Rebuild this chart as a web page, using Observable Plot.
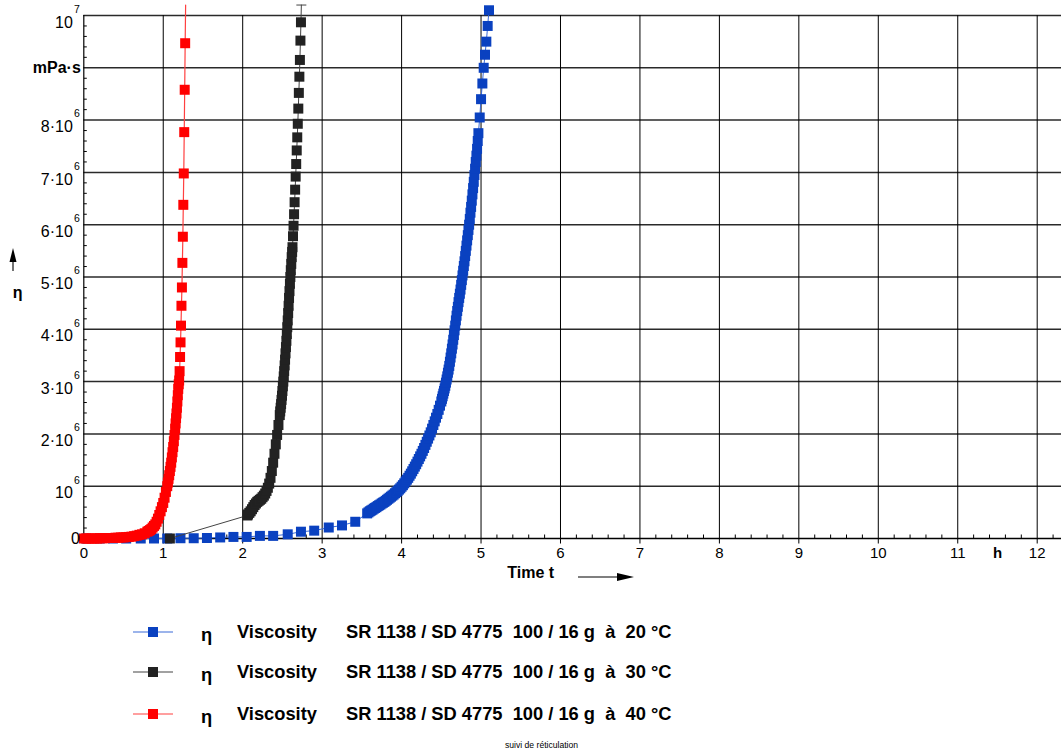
<!DOCTYPE html>
<html>
<head>
<meta charset="utf-8">
<script src="https://cdn.jsdelivr.net/npm/d3@7"></script>
<script src="https://cdn.jsdelivr.net/npm/@observablehq/plot@0.6"></script>
<style>
html, body { margin: 0; padding: 0; background: #fff; overflow: hidden; }
#wrap { position: relative; width: 1061px; height: 751px; font-family: "Liberation Sans", Arial, sans-serif; color: #000; }
#chart { position: absolute; left: 0; top: 0; }
.lg { position: absolute; font-weight: bold; font-size: 18.3px; line-height: 20px; white-space: pre; }
.mk { position: absolute; }
#foot { position: absolute; font-size: 8.6px; line-height: 10px; white-space: pre; }
</style>
</head>
<body>
<div id="wrap"><div id="chart"></div></div>
<script>
// ---------- DATA (time in minutes, viscosity in 10^6 mPa·s) ----------
// 20 °C series (blue): sparse part then dense part
const blueSparseMin = [2, 12, 22, 32, 43, 53, 63, 73, 83, 93, 103, 113, 123, 133, 143, 154, 164, 174, 185, 195, 205];
const blueSparseEta = [0, 0, 0, 0, 0, 0, 0, 0.005, 0.005, 0.01, 0.02, 0.03, 0.03, 0.05, 0.05, 0.08, 0.13, 0.15, 0.21, 0.25, 0.32];
const blueDenseMin = [
  214, 215, 216, 217, 218, 219, 220, 221, 222, 223, 224, 225, 226, 227, 228, 229, 230, 231, 232, 233,
  234, 235, 236, 237, 238, 239, 240, 241, 242, 243, 244, 245, 246, 247, 248, 249, 250, 251, 252, 253,
  254, 255, 256, 257, 258, 259, 260, 261, 262, 263, 264, 265, 266, 267, 268, 269, 270,
  270.5, 271, 271.5, 272, 272.5, 273, 273.5, 274, 274.5, 275, 275.5, 276, 276.5, 277, 277.5, 278,
  278.5, 279, 279.5, 280, 280.5, 281, 281.5, 282, 282.5, 283, 283.5, 284, 284.5, 285, 285.5, 286,
  286.5, 287, 287.5, 288, 288.5, 289, 289.5, 290, 290.5, 291, 291.5, 292, 292.5, 293, 293.5, 294,
  294.5, 295, 295.5, 296, 296.5, 297, 297.5, 298,
  299, 300, 301, 302, 303, 304, 305, 306
];
const blueDenseEta = [
  0.48, 0.50, 0.52, 0.535, 0.55, 0.57, 0.585, 0.60, 0.62, 0.635, 0.65, 0.67, 0.685, 0.70, 0.72, 0.74, 0.76, 0.78, 0.80, 0.82,
  0.84, 0.865, 0.885, 0.91, 0.935, 0.96, 0.99, 1.02, 1.055, 1.09, 1.125, 1.16, 1.20, 1.24, 1.285, 1.33, 1.375, 1.42, 1.47, 1.52,
  1.57, 1.62, 1.675, 1.73, 1.79, 1.85, 1.91, 1.97, 2.03, 2.10, 2.17, 2.24, 2.31, 2.38, 2.46, 2.54, 2.62,
  2.67, 2.72, 2.77, 2.82, 2.87, 2.92, 2.98, 3.04, 3.10, 3.17, 3.23, 3.30, 3.38, 3.46, 3.54, 3.63,
  3.71, 3.80, 3.89, 3.98, 4.07, 4.17, 4.26, 4.35, 4.43, 4.52, 4.60, 4.68, 4.76, 4.85, 4.94, 5.03,
  5.12, 5.21, 5.30, 5.40, 5.50, 5.60, 5.70, 5.80, 5.90, 6.00, 6.11, 6.23, 6.34, 6.46, 6.58, 6.70,
  6.82, 6.95, 7.07, 7.20, 7.32, 7.45, 7.60, 7.75,
  8.05, 8.40, 8.70, 9.00, 9.25, 9.50, 9.80, 10.1
];

// 30 °C series (black)
const blackMin = [
  65, 123.5, 124, 125, 126, 127, 128, 129, 130, 131, 132, 133, 134, 135, 136, 137, 138, 139, 140, 141, 142, 143, 144, 145, 146, 147,
  148, 148.33, 148.67, 149, 149.33, 149.67, 150, 150.33, 150.67, 151, 151.33, 151.67, 152, 152.33, 152.67,
  153, 153.33, 153.67, 154, 154.33, 154.67, 155, 155.33, 155.67, 156, 156.33, 156.67, 157, 157.33,
  157.6, 158, 158.4, 158.8, 159.2, 159.6, 160, 160.4, 160.8, 161.2, 161.6, 162, 162.4, 162.8, 163.2, 163.6, 164
];
const blackEta = [
  0, 0.44, 0.46, 0.49, 0.52, 0.56, 0.60, 0.64, 0.67, 0.70, 0.72, 0.74, 0.76, 0.79, 0.82, 0.86, 0.91, 0.97, 1.05, 1.16, 1.29, 1.45, 1.62, 1.80, 1.98, 2.17,
  2.36, 2.43, 2.50, 2.57, 2.65, 2.73, 2.82, 2.91, 3.00, 3.10, 3.20, 3.31, 3.42, 3.54, 3.66,
  3.78, 3.91, 4.04, 4.17, 4.31, 4.45, 4.60, 4.73, 4.87, 5.00, 5.13, 5.25, 5.38, 5.48,
  5.57, 5.78, 5.98, 6.20, 6.43, 6.67, 6.92, 7.16, 7.42, 7.67, 7.93, 8.22, 8.52, 8.83, 9.15, 9.52, 9.87
];
const blackTopMin = [164.3];   // line leaves the chart (capped)
const blackTopEta = [10.2];

// 40 °C series (red)
const redMin = [
  0, 2, 4, 6, 8, 10, 12, 14, 16, 18, 20, 22, 24, 26, 28, 30, 32, 34, 36, 38, 40, 42, 44, 46, 48,
  49, 50, 51, 52, 53, 54, 55, 56, 57, 58, 59, 60, 61, 62, 63,
  63.5, 64, 64.5, 65, 65.5, 66, 66.5, 67, 67.5, 68, 68.5, 69,
  69.33, 69.67, 70, 70.33, 70.67, 71, 71.33, 71.67,
  72, 72.35, 72.7, 73.05, 73.4, 73.75, 74.1, 74.45, 74.8, 75.15, 75.5, 75.85, 76.2, 76.55
];
const redEta = [
  0, 0, 0, 0, 0, 0, 0.005, 0.005, 0.005, 0.01, 0.01, 0.01, 0.015, 0.015, 0.02, 0.02, 0.025, 0.03, 0.035, 0.045, 0.055, 0.07, 0.08, 0.10, 0.13,
  0.145, 0.16, 0.18, 0.21, 0.24, 0.27, 0.32, 0.38, 0.45, 0.52, 0.6, 0.68, 0.78, 0.89, 1.0,
  1.07, 1.14, 1.21, 1.29, 1.37, 1.45, 1.55, 1.65, 1.75, 1.86, 1.98, 2.10,
  2.2, 2.3, 2.39, 2.5, 2.62, 2.74, 2.86, 2.95,
  3.02, 3.20, 3.47, 3.75, 4.07, 4.45, 4.80, 5.27, 5.77, 6.38, 6.98, 7.77, 8.58, 9.47
];
const redTopMin = [76.9];      // line leaves the chart
const redTopEta = [10.2];

// Axis ticks and labels
const xTicks = [0, 1, 2, 3, 4, 5, 6, 7, 8, 9, 10, 11, 12];
const xTickLabels = ["0", "1", "2", "3", "4", "5", "6", "7", "8", "9", "10", "11", "12"];
const xUnit = [{t: 11.5, label: "h"}];
const yTicks = [0, 1, 2, 3, 4, 5, 6, 7, 8, 9, 10];              // ×10^6
const yTickBase = ["0", "10", "2·10", "3·10", "4·10", "5·10", "6·10", "7·10", "8·10", "mPa·s", "10"];
const yTickExp  = ["", "6", "6", "6", "6", "6", "6", "6", "6", "", "7"];

// Legend
const seriesNames = ["20 °C", "30 °C", "40 °C"];
const seriesColors = ["#0a41c0", "#222222", "#ff0000"];
const seriesLineColors = ["#3a6ad8", "#444444", "#ff4040"];
const legendSymbol = "η";
const legendWord = "Viscosity";
const legendProduct = "SR 1138 / SD 4775  100 / 16 g  à  ";
const footerText = "suivi de réticulation";

// ---------- BUILD ----------
const toRows = (mins, etas) => mins.map((m, i) => ({t: m / 60, eta: etas[i] * 1e6}));
const blue = toRows(blueSparseMin.concat(blueDenseMin), blueSparseEta.concat(blueDenseEta));
const black = toRows(blackMin, blackEta);
const red = toRows(redMin, redEta);
const blackLine = black.concat(toRows(blackTopMin, blackTopEta));
const redLine = red.concat(toRows(redTopMin, redTopEta));
const blackTop = toRows(blackTopMin, blackTopEta);

const xMinor = d3.range(0, 62).filter(i => i % 5 !== 0).map(i => i / 5);
const yMinor = d3.range(0, 50).filter(i => i % 5 !== 0).map(i => i * 0.2e6);

const tickUp = {draw(ctx) { ctx.moveTo(0, 0); ctx.lineTo(0, -4); }};
const tickDown = {draw(ctx) { ctx.moveTo(0, 0); ctx.lineTo(0, 5); }};
const tickRight = {draw(ctx) { ctx.moveTo(0, 0); ctx.lineTo(3, 0); }};
const capSym = {draw(ctx) { ctx.moveTo(-5, 0); ctx.lineTo(5, 0); }};

const yLabels = yTicks.map((v, i) => ({v: v * 1e6, base: yTickBase[i], exp: yTickExp[i]}));
const yExpLabels = yLabels.filter(d => d.exp !== "");
const yZero = yLabels.filter(d => d.base === "0");
const yUnit = yLabels.filter(d => d.base === "mPa·s");

const SQ = 5.64; // square symbol radius => 10px side

const plot = Plot.plot({
  width: 1061,
  height: 600,
  marginLeft: 83.3,
  marginRight: 0,
  marginTop: 15,
  marginBottom: 62,
  x: {domain: [0, 12.306], axis: null},
  y: {domain: [0, 1e7], axis: null},
  style: {fontFamily: "'Liberation Sans', Arial, sans-serif", fontSize: "15px", background: "white", color: "#000"},
  marks: [
    Plot.ruleY(yTicks.slice(1).map(v => v * 1e6), {stroke: "#2a2a2a", strokeWidth: 1.5}),
    Plot.ruleX(xTicks.slice(1), {stroke: "#000", strokeWidth: 1}),
    Plot.ruleX([0], {stroke: "#000", strokeWidth: 1.2}),
    Plot.ruleY([0], {stroke: "#000", strokeWidth: 1.4}),
    Plot.dot(xTicks, {x: d => d, frameAnchor: "bottom", symbol: tickDown, stroke: "#000", fill: "none", strokeWidth: 1}),
    Plot.dot(xMinor, {x: d => d, frameAnchor: "bottom", symbol: tickUp, stroke: "#000", fill: "none", strokeWidth: 1}),
    Plot.dot(yMinor, {y: d => d, frameAnchor: "left", symbol: tickRight, stroke: "#000", fill: "none", strokeWidth: 1}),

    // 20 °C
    Plot.line(blue, {x: "t", y: "eta", stroke: seriesLineColors[0], strokeWidth: 1}),
    Plot.dot(blue, {x: "t", y: "eta", symbol: "square", r: SQ, fill: seriesColors[0], stroke: "none"}),
    // 30 °C
    Plot.line(blackLine, {x: "t", y: "eta", stroke: seriesLineColors[1], strokeWidth: 1}),
    Plot.dot(black, {x: "t", y: "eta", symbol: "square", r: SQ, fill: seriesColors[1], stroke: "none"}),
    Plot.dot(blackTop, {x: "t", y: "eta", symbol: capSym, stroke: seriesLineColors[1], fill: "none", strokeWidth: 1}),
    // 40 °C
    Plot.line(redLine, {x: "t", y: "eta", stroke: seriesLineColors[2], strokeWidth: 1.2}),
    Plot.dot(red, {x: "t", y: "eta", symbol: "square", r: SQ, fill: seriesColors[2], stroke: "none"}),

    // x tick labels
    Plot.text(xTicks, {x: d => d, text: (d, i) => xTickLabels[i], frameAnchor: "bottom", dy: 19, fontSize: 15}),
    Plot.text(xUnit, {x: "t", text: "label", frameAnchor: "bottom", dy: 19, fontSize: 15, fontWeight: "bold"}),
    Plot.text(["Time t"], {text: d => d, frameAnchor: "bottom", dx: -42, dy: 39, fontSize: 16, fontWeight: "bold"}),

    // y tick labels
    Plot.text(yExpLabels, {y: "v", text: "base", frameAnchor: "left", textAnchor: "end", dx: -11, dy: 7, fontSize: 16}),
    Plot.text(yExpLabels, {y: "v", text: "exp", frameAnchor: "left", textAnchor: "end", dx: -4, dy: -6, fontSize: 10.5}),
    Plot.text(yZero, {y: "v", text: "base", frameAnchor: "left", textAnchor: "end", dx: -4, dy: 0, fontSize: 16}),
    Plot.text(yUnit, {y: "v", text: "base", frameAnchor: "left", textAnchor: "end", dx: -3, dy: 0, fontSize: 16, fontWeight: "bold"}),
    Plot.text([legendSymbol], {text: d => d, frameAnchor: "left", dx: -71, dy: 16, fontSize: 16, fontWeight: "bold"})
  ]
});
document.getElementById("chart").appendChild(plot);

// axis direction arrows (decoration)
const svg = d3.select(plot);
svg.append("line").attr("x1", 13).attr("x2", 13).attr("y1", 271).attr("y2", 260).attr("stroke", "#444").attr("stroke-width", 1.5);
svg.append("path").attr("d", "M13,248 L9.5,262 L16.5,262 Z").attr("fill", "#000");
svg.append("line").attr("x1", 578).attr("x2", 620).attr("y1", 577).attr("y2", 577).attr("stroke", "#555").attr("stroke-width", 1.5);
svg.append("path").attr("d", "M634,577 L617,573 L617,581 Z").attr("fill", "#000");

// ---------- LEGEND (HTML, below the SVG) ----------
const wrap = document.getElementById("wrap");
const rowCenters = [632, 672, 714];
seriesNames.forEach((name, i) => {
  const cy = rowCenters[i];
  const mk = document.createElementNS("http://www.w3.org/2000/svg", "svg");
  mk.setAttribute("width", 42); mk.setAttribute("height", 12);
  mk.setAttribute("class", "mk");
  mk.style.left = "132px"; mk.style.top = (cy - 6) + "px";
  mk.innerHTML = `<line x1="1" x2="41" y1="6" y2="6" stroke="${seriesLineColors[i]}" stroke-width="1.2"/>` +
                 `<rect x="16" y="1" width="10" height="10" fill="${seriesColors[i]}"/>`;
  wrap.appendChild(mk);
  const parts = [[legendSymbol, 201], [legendWord, 237], [legendProduct + name, 346]];
  parts.forEach(([txt, left]) => {
    const s = document.createElement("div");
    s.className = "lg";
    s.textContent = txt;
    s.style.left = left + "px";
    s.style.top = (cy - 10 + (txt === legendSymbol ? 3 : 0)) + "px";
    wrap.appendChild(s);
  });
});
const foot = document.createElement("div");
foot.id = "foot";
foot.textContent = footerText;
foot.style.left = "505px";
foot.style.top = "740px";
wrap.appendChild(foot);
</script>
</body>
</html>
